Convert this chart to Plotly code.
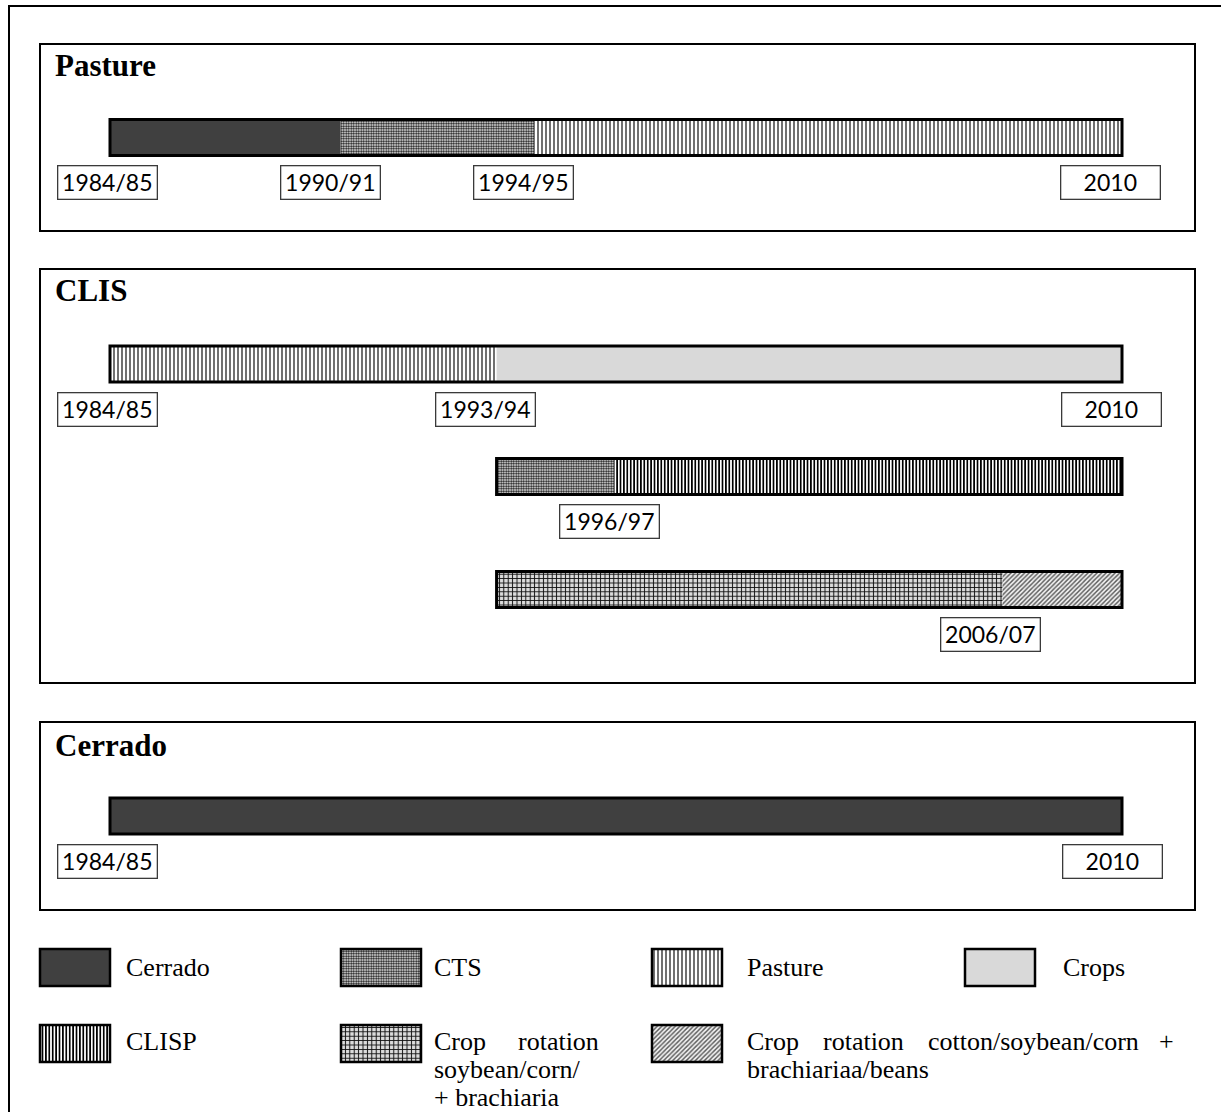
import plotly.graph_objects as go

# ---------------- data ----------------
# timeline positions are expressed in percent of the drawn time line (0 = 1984/85 start, 100 = 2010 end)
pasture_classes = ["Cerrado", "CTS", "Pasture"]
pasture_bounds = [0, 22.8, 41.9, 100]
pasture_labels = ["1984/85", "1990/91", "1994/95", "2010"]
pasture_label_pos = [-0.25, 21.8, 40.9, 98.9]

clis1_classes = ["Pasture", "Crops"]
clis1_bounds = [0, 38.2, 100]
clis1_labels = ["1984/85", "1993/94", "2010"]
clis1_label_pos = [-0.25, 37.1, 99.0]

clis2_classes = ["CTS", "CLISP"]
clis2_bounds = [38.2, 49.8, 100]
clis2_labels = ["1996/97"]
clis2_label_pos = [49.4]

clis3_classes = ["CropSoy", "CropCotton"]
clis3_bounds = [38.2, 88.2, 100]
clis3_labels = ["2006/07"]
clis3_label_pos = [87.0]

cerrado_classes = ["Cerrado"]
cerrado_bounds = [0, 100]
cerrado_labels = ["1984/85", "2010"]
cerrado_label_pos = [-0.25, 99.1]

panel_titles = ["Pasture", "CLIS", "Cerrado"]

legend_keys = ["Cerrado", "CTS", "Pasture", "Crops", "CLISP", "CropSoy", "CropCotton"]

# ---------------- layout constants ----------------
W, H = 1221, 1112
TL_L, TL_R = 110, 1122
scale = (TL_R - TL_L) / 100.0
BAR_H = 36

styles = {
    "Cerrado": dict(color="#404040"),
    "Crops": dict(color="#d9d9d9"),
    "CTS": dict(color="#ffffff", pattern=dict(shape=".", size=2.5, solidity=0.55,
                                             fgcolor="#111111", bgcolor="#ffffff", fillmode="replace")),
    "Pasture": dict(color="#ffffff", pattern=dict(shape="|", size=4, solidity=0.3,
                                                 fgcolor="#111111", bgcolor="#ffffff", fillmode="replace")),
    "CLISP": dict(color="#ffffff", pattern=dict(shape="|", size=3.4, solidity=0.5,
                                               fgcolor="#000000", bgcolor="#ffffff", fillmode="replace")),
    "CropSoy": dict(color="#dddddd", pattern=dict(shape="+", size=4.4, solidity=0.4,
                                                 fgcolor="#111111", bgcolor="#dcdcdc", fillmode="replace")),
    "CropCotton": dict(color="#eeeeee", pattern=dict(shape="/", size=3.2, solidity=0.45,
                                                    fgcolor="#5a5a5a", bgcolor="#f4f4f4", fillmode="replace")),
}

rows = [
    (pasture_classes, pasture_bounds, pasture_labels, pasture_label_pos, 137.5),
    (clis1_classes, clis1_bounds, clis1_labels, clis1_label_pos, 364),
    (clis2_classes, clis2_bounds, clis2_labels, clis2_label_pos, 476.5),
    (clis3_classes, clis3_bounds, clis3_labels, clis3_label_pos, 589.5),
    (cerrado_classes, cerrado_bounds, cerrado_labels, cerrado_label_pos, 816),
]

fig = go.Figure()
annotations = []


def marker_for(cls, line_w=0):
    st = styles[cls]
    m = dict(color=st["color"], line=dict(width=line_w, color="black"))
    if "pattern" in st:
        m["pattern"] = st["pattern"]
    return m


for classes, bounds, labels, label_pos, yc in rows:
    for i, cls in enumerate(classes):
        fig.add_trace(go.Bar(
            orientation="h", y=[yc], base=[bounds[i]], x=[bounds[i + 1] - bounds[i]],
            width=BAR_H, marker=marker_for(cls), hoverinfo="skip", showlegend=False,
            xaxis="x", yaxis="y"))
    fig.add_trace(go.Bar(
        orientation="h", y=[yc], base=[bounds[0]], x=[bounds[-1] - bounds[0]],
        width=BAR_H, marker=dict(color="rgba(0,0,0,0)", line=dict(width=3, color="black")),
        hoverinfo="skip", showlegend=False, xaxis="x", yaxis="y"))
    for lab, pos in zip(labels, label_pos):
        annotations.append(dict(
            x=pos, y=yc + 45, xref="x", yref="y", text=lab, showarrow=False,
            width=94, height=28, align="center",
            bordercolor="#3a3a3a", borderwidth=1.3, borderpad=2, bgcolor="white",
            font=dict(family="Lato", size=23, color="black")))

# legend swatches (pixel coordinates on x2)
swatch_pos = {
    "Cerrado": (40, 967.5), "CTS": (341, 967.5), "Pasture": (652, 967.5), "Crops": (965, 967.5),
    "CLISP": (40, 1043.5), "CropSoy": (341, 1043.5), "CropCotton": (652, 1043.5),
}
swatch_w = {"Cerrado": 70, "CTS": 80, "Pasture": 70, "Crops": 70, "CLISP": 70, "CropSoy": 80, "CropCotton": 70}
for k in legend_keys:
    x0, yc = swatch_pos[k]
    fig.add_trace(go.Bar(
        orientation="h", y=[yc], base=[x0], x=[swatch_w[k]], width=37,
        marker=marker_for(k, line_w=2.5), hoverinfo="skip", showlegend=False,
        xaxis="x2", yaxis="y"))

serif = dict(family="Liberation Serif", size=26, color="black")


def txt(x, y, s, anchor="left"):
    annotations.append(dict(x=x, y=y, xref="x2", yref="y", text=s, showarrow=False,
                            xanchor=anchor, yanchor="middle", font=serif))


txt(124, 967, "Cerrado")
txt(432, 967, "CTS")
txt(745, 967, "Pasture")
txt(1061, 967, "Crops")
txt(124, 1041, "CLISP")
txt(432, 1041, "Crop")
txt(601, 1041, "rotation", "right")
txt(432, 1069, "soybean/corn/")
txt(432, 1097, "+ brachiaria")
txt(745, 1041, "Crop")
txt(821, 1041, "rotation")
txt(926, 1041, "cotton/soybean/corn")
txt(1176, 1041, "+", "right")
txt(745, 1069, "brachiariaa/beans")

# panel titles
for t, y in zip(panel_titles, [65, 290, 745]):
    annotations.append(dict(x=53, y=y, xref="x2", yref="y", text="<b>%s</b>" % t, showarrow=False,
                            xanchor="left", yanchor="middle",
                            font=dict(family="Liberation Serif", size=31, color="black")))

shapes = [
    dict(type="rect", xref="x2", yref="y", x0=9, y0=6, x1=W + 5, y1=H + 5,
         line=dict(color="black", width=2)),
    dict(type="rect", xref="x2", yref="y", x0=40, y0=44, x1=1195, y1=231,
         line=dict(color="black", width=2)),
    dict(type="rect", xref="x2", yref="y", x0=40, y0=269, x1=1195, y1=683,
         line=dict(color="black", width=2)),
    dict(type="rect", xref="x2", yref="y", x0=40, y0=722, x1=1195, y1=910,
         line=dict(color="black", width=2)),
]

fig.update_layout(
    width=W, height=H, margin=dict(l=0, r=0, t=0, b=0),
    paper_bgcolor="white", plot_bgcolor="white",
    barmode="overlay", showlegend=False,
    xaxis=dict(range=[-TL_L / scale, (W - TL_L) / scale], visible=False, fixedrange=True),
    xaxis2=dict(range=[0, W], overlaying="x", anchor="y", visible=False, fixedrange=True),
    yaxis=dict(range=[H, 0], visible=False, fixedrange=True),
    annotations=annotations, shapes=shapes,
)

fig.write_html("out.html", config={"displayModeBar": False},
               post_script="document.body.style.margin='0';document.body.style.overflow='hidden';")
